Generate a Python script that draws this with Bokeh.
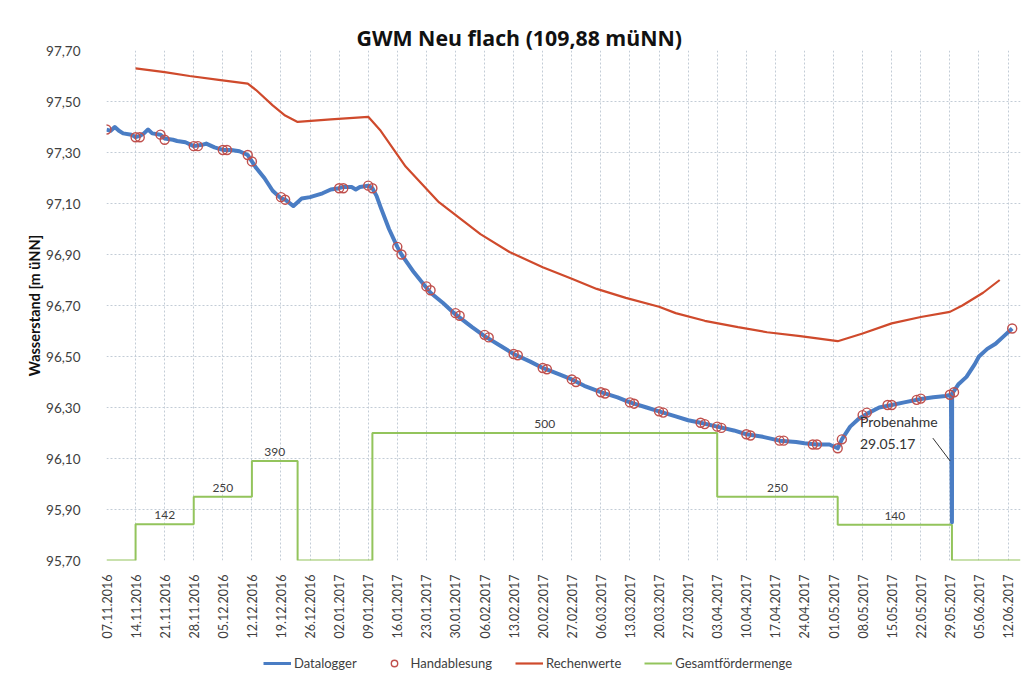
import math
from datetime import datetime, timedelta

from bokeh.plotting import figure
from bokeh.layouts import column
from bokeh.models import (Range1d, FixedTicker, DatetimeTickFormatter,
                          CustomJSTickFormatter, Legend, LegendItem, Label)
from bokeh.core.properties import value
from bokeh.embed import file_html
from bokeh.resources import INLINE


def d(s):
    for fmt in ("%d.%m.%Y %H:%M", "%d.%m.%Y"):
        try:
            return datetime.strptime(s, fmt)
        except ValueError:
            pass
    raise ValueError(s)


TITLE = "GWM Neu flach (109,88 müNN)"
Y_LABEL = "Wasserstand [m üNN]"
X_START = "07.11.2016"
X_END = "15.06.2017"
Y_MIN, Y_MAX, Y_STEP = 95.70, 97.70, 0.20
PROBE_DATE = "29.05.2017 12:00"
PROBE_TEXT = "Probenahme\n29.05.17"
SERIES = ["Datalogger", "Handablesung", "Rechenwerte", "Gesamtfördermenge"]

# Datalogger (m üNN)
logger_dates = [
    "07.11.2016", "08.11.2016", "09.11.2016", "10.11.2016", "11.11.2016", "13.11.2016",
    "14.11.2016", "15.11.2016", "16.11.2016", "17.11.2016", "18.11.2016", "20.11.2016",
    "21.11.2016", "23.11.2016", "24.11.2016", "26.11.2016", "28.11.2016", "30.11.2016",
    "01.12.2016", "03.12.2016", "05.12.2016", "07.12.2016", "09.12.2016", "11.12.2016",
    "12.12.2016", "13.12.2016", "15.12.2016", "17.12.2016", "19.12.2016", "20.12.2016",
    "22.12.2016", "23.12.2016", "24.12.2016", "26.12.2016", "28.12.2016", "29.12.2016",
    "31.12.2016", "02.01.2017", "03.01.2017", "05.01.2017", "06.01.2017", "07.01.2017",
    "09.01.2017", "10.01.2017", "11.01.2017", "12.01.2017", "14.01.2017", "16.01.2017",
    "17.01.2017", "20.01.2017", "23.01.2017", "24.01.2017", "27.01.2017", "30.01.2017",
    "03.02.2017", "06.02.2017", "10.02.2017", "13.02.2017", "17.02.2017", "20.02.2017",
    "24.02.2017", "27.02.2017", "02.03.2017", "06.03.2017", "10.03.2017", "13.03.2017",
    "17.03.2017", "20.03.2017", "24.03.2017", "27.03.2017", "30.03.2017", "03.04.2017",
    "07.04.2017", "10.04.2017", "14.04.2017", "18.04.2017", "22.04.2017", "24.04.2017",
    "27.04.2017", "30.04.2017", "02.05.2017", "03.05.2017", "05.05.2017", "07.05.2017",
    "09.05.2017", "12.05.2017", "15.05.2017", "18.05.2017", "22.05.2017", "25.05.2017",
    "28.05.2017", "29.05.2017 06:00", "29.05.2017 12:00", "29.05.2017 13:00",
    "30.05.2017", "31.05.2017", "02.06.2017", "04.06.2017", "05.06.2017", "07.06.2017",
    "09.06.2017", "11.06.2017", "13.06.2017",
]
logger_values = [
    97.39, 97.385, 97.40, 97.385, 97.375, 97.37,
    97.36, 97.365, 97.375, 97.39, 97.375, 97.37,
    97.355, 97.35, 97.345, 97.34, 97.325, 97.33,
    97.335, 97.32, 97.31, 97.31, 97.305, 97.29,
    97.265, 97.24, 97.20, 97.15, 97.12, 97.115,
    97.09, 97.105, 97.12, 97.125, 97.135, 97.14,
    97.155, 97.16, 97.165, 97.165, 97.155, 97.165,
    97.17, 97.16, 97.13, 97.085, 97.00, 96.93,
    96.90, 96.83, 96.77, 96.75, 96.71, 96.665,
    96.615, 96.58, 96.54, 96.51, 96.48, 96.455,
    96.43, 96.41, 96.385, 96.36, 96.34, 96.32,
    96.30, 96.285, 96.265, 96.25, 96.24, 96.225,
    96.21, 96.195, 96.185, 96.17, 96.165, 96.16,
    96.155, 96.155, 96.14, 96.175, 96.225, 96.255,
    96.275, 96.30, 96.31, 96.32, 96.333, 96.34,
    96.345, 96.35, 95.85, 96.355,
    96.365, 96.39, 96.42, 96.47, 96.50, 96.53,
    96.55, 96.58, 96.61,
]

# Handablesung (m üNN)
hand_dates = [
    "07.11.2016", "14.11.2016", "15.11.2016", "20.11.2016", "21.11.2016", "28.11.2016",
    "29.11.2016", "05.12.2016", "06.12.2016", "11.12.2016", "12.12.2016", "19.12.2016",
    "20.12.2016", "02.01.2017", "03.01.2017", "09.01.2017", "10.01.2017", "16.01.2017",
    "17.01.2017", "23.01.2017", "24.01.2017", "30.01.2017", "31.01.2017", "06.02.2017",
    "07.02.2017", "13.02.2017", "14.02.2017", "20.02.2017", "21.02.2017", "27.02.2017",
    "28.02.2017", "06.03.2017", "07.03.2017", "13.03.2017", "14.03.2017", "20.03.2017",
    "21.03.2017", "30.03.2017", "31.03.2017", "03.04.2017", "04.04.2017", "10.04.2017",
    "11.04.2017", "18.04.2017", "19.04.2017", "26.04.2017", "27.04.2017", "02.05.2017",
    "03.05.2017", "08.05.2017", "09.05.2017", "14.05.2017", "15.05.2017", "21.05.2017",
    "22.05.2017", "29.05.2017", "30.05.2017", "13.06.2017",
]
hand_values = [
    97.39, 97.36, 97.36, 97.37, 97.35, 97.325,
    97.325, 97.31, 97.31, 97.29, 97.265, 97.125,
    97.115, 97.16, 97.16, 97.17, 97.16, 96.93,
    96.90, 96.775, 96.76, 96.67, 96.66, 96.585,
    96.575, 96.51, 96.505, 96.455, 96.45, 96.41,
    96.40, 96.36, 96.355, 96.32, 96.315, 96.285,
    96.28, 96.24, 96.235, 96.225, 96.22, 96.195,
    96.19, 96.17, 96.17, 96.155, 96.155, 96.14,
    96.175, 96.27, 96.28, 96.31, 96.31, 96.33,
    96.335, 96.35, 96.36, 96.61,
]

# Rechenwerte (m üNN)
calc_dates = [
    "14.11.2016", "21.11.2016", "27.11.2016", "04.12.2016", "11.12.2016", "13.12.2016",
    "17.12.2016", "20.12.2016", "23.12.2016", "31.12.2016", "09.01.2017", "12.01.2017",
    "18.01.2017", "26.01.2017", "05.02.2017", "12.02.2017", "20.02.2017", "27.02.2017",
    "05.03.2017", "12.03.2017", "20.03.2017", "24.03.2017", "31.03.2017", "08.04.2017",
    "15.04.2017", "23.04.2017", "02.05.2017", "08.05.2017", "15.05.2017", "22.05.2017",
    "29.05.2017", "01.06.2017", "06.06.2017", "10.06.2017",
]
calc_values = [
    97.63, 97.615, 97.60, 97.585, 97.57, 97.545,
    97.485, 97.445, 97.42, 97.43, 97.44, 97.385,
    97.245, 97.105, 96.98, 96.91, 96.85, 96.805,
    96.765, 96.73, 96.695, 96.67, 96.64, 96.615,
    96.595, 96.58, 96.56, 96.59, 96.63, 96.655,
    96.675, 96.70, 96.75, 96.80,
]

# Gesamtfördermenge (step changes)
flow_dates = [
    "07.11.2016", "14.11.2016", "28.11.2016", "12.12.2016", "23.12.2016",
    "10.01.2017", "03.04.2017", "02.05.2017", "29.05.2017 12:00",
]
flow_values = [0, 142, 250, 390, 0, 500, 250, 140, 0]

BLUE = "#4a7dc4"
RED = "#cf4a2c"
GREEN = "#93c45c"
HAND = "#c0504d"
TEXT = "#404040"
GRID = "#c3ccd6"
FONT = "Lato"

x_start, x_end = d(X_START), d(X_END)

p = figure(width=1036, height=645, x_axis_type="datetime",
           x_range=Range1d(x_start, x_end), y_range=Range1d(Y_MIN, Y_MAX),
           output_backend="svg", toolbar_location=None,
           min_border_left=106, min_border_right=16, min_border_top=50,
           min_border_bottom=85)
p.extra_y_ranges = {"flow": Range1d(0, (Y_MAX - Y_MIN) * 1000)}
p.outline_line_color = None
p.background_fill_color = "white"
p.border_fill_color = "white"

p.title.text = TITLE
p.title.text_font = "Open Sans"
p.title.text_font_size = "21.3px"
p.title.text_font_style = "bold"
p.title.text_color = "#111111"
p.title.align = "left"
p.title.offset = 250
p.title.standoff = -2

# axes
n_weeks = int((x_end - x_start).days // 7)
week_ticks = [(x_start + timedelta(days=7 * i)).timestamp() * 1000 for i in range(n_weeks + 1)]
p.xaxis.ticker = FixedTicker(ticks=week_ticks)
fmt = "%d.%m.%Y"
p.xaxis.formatter = DatetimeTickFormatter(days=fmt, months=fmt, years=fmt, hours=fmt,
                                          hourmin=fmt, minutes=fmt, minsec=fmt,
                                          seconds=fmt, milliseconds=fmt, microseconds=fmt)
p.xaxis.major_label_orientation = math.pi / 2

n_y = int(round((Y_MAX - Y_MIN) / Y_STEP))
p.yaxis.ticker = FixedTicker(ticks=[round(Y_MIN + i * Y_STEP, 2) for i in range(n_y + 1)])
p.yaxis.formatter = CustomJSTickFormatter(code="return tick.toFixed(2).replace('.', ',');")
p.yaxis.axis_label = Y_LABEL
p.yaxis.axis_label_text_font = FONT
p.yaxis.axis_label_text_font_size = "14.5px"
p.yaxis.axis_label_text_font_style = "bold"
p.yaxis.axis_label_text_color = "#111111"
p.yaxis.axis_label_standoff = 0

for ax in (p.xaxis, p.yaxis):
    ax.axis_line_color = None
    ax.major_tick_line_color = None
    ax.minor_tick_line_color = None
    ax.major_label_text_font = FONT
    ax.major_label_text_color = TEXT
p.yaxis.major_label_text_font_size = "13.5px"
p.yaxis.major_label_standoff = 20
p.xaxis.major_label_text_font_size = "12.5px"
p.xaxis.major_label_standoff = 8

p.grid.grid_line_color = GRID
p.grid.grid_line_dash = "2 2"
p.grid.grid_line_width = 1

# styles shared by plot and legend
flow_style = dict(line_color=GREEN, line_width=2)
calc_style = dict(line_color=RED, line_width=2.2)
log_style = dict(line_color=BLUE, line_width=4, line_join="round")
hand_style = dict(marker="circle", size=9, fill_color=None, line_color=HAND, line_width=1.4)

# data
fx = [d(s) for s in flow_dates] + [x_end]
fy = flow_values + [flow_values[-1]]
p.step(fx, fy, mode="after", y_range_name="flow", **flow_style)

mids, labs, levs = [], [], []
for i, v in enumerate(flow_values):
    if v:
        a, b = fx[i], fx[i + 1]
        mids.append(a + (b - a) / 2)
        labs.append(str(v))
        levs.append(v)
p.text(x=mids, y=levs, text=labs, y_range_name="flow", text_align="center",
       text_baseline="bottom", y_offset=-5, text_font=value(FONT),
       text_font_size="12px", text_color=TEXT)

p.line([d(s) for s in calc_dates], calc_values, **calc_style)
p.line([d(s) for s in logger_dates], logger_values, **log_style)
p.scatter([d(s) for s in hand_dates], hand_values, **hand_style)

# Probenahme annotation
probe = d(PROBE_DATE)
p.add_layout(Label(x=probe, y=96.28, x_offset=-92, text=PROBE_TEXT,
                   text_baseline="top", text_font=FONT, text_font_size="14px",
                   text_color="#333333", text_line_height=1.3))
p.segment(x0=[probe - timedelta(days=4.6)], y0=[96.18],
          x1=[probe - timedelta(hours=10)], y1=[96.09],
          line_color="#333333", line_width=1)

# legend strip below the chart (its frame is aligned with the chart frame)
lf = figure(width=1036, height=35, x_range=Range1d(0, 1), y_range=Range1d(0, 1),
            output_backend="svg", toolbar_location=None,
            x_axis_location=None, y_axis_location=None,
            min_border_left=0, min_border_right=0, min_border_top=0, min_border_bottom=0)
lf.outline_line_color = None
lf.grid.visible = False
off = [5.0]  # keeps the legend-only glyphs outside the visible strip
l_log = lf.line(off, off, **dict(log_style, line_width=3))
l_hand = lf.scatter(off, off, **hand_style)
l_calc = lf.line(off, off, **calc_style)
l_flow = lf.line(off, off, **flow_style)
legend = Legend(items=[
    LegendItem(label=SERIES[0], renderers=[l_log]),
    LegendItem(label=SERIES[1], renderers=[l_hand]),
    LegendItem(label=SERIES[2], renderers=[l_calc]),
    LegendItem(label=SERIES[3], renderers=[l_flow]),
], orientation="horizontal", location=(157, 9))
legend.background_fill_alpha = 0
legend.border_line_color = None
legend.padding = 0
legend.margin = 0
legend.spacing = 23
legend.glyph_width = 28
legend.glyph_height = 16
legend.label_standoff = 3
legend.label_text_font = FONT
legend.label_text_font_size = "13px"
legend.label_text_color = TEXT
lf.add_layout(legend, "center")

layout = column(p, lf, spacing=0)
open("out.html", "w").write(file_html(layout, INLINE))
